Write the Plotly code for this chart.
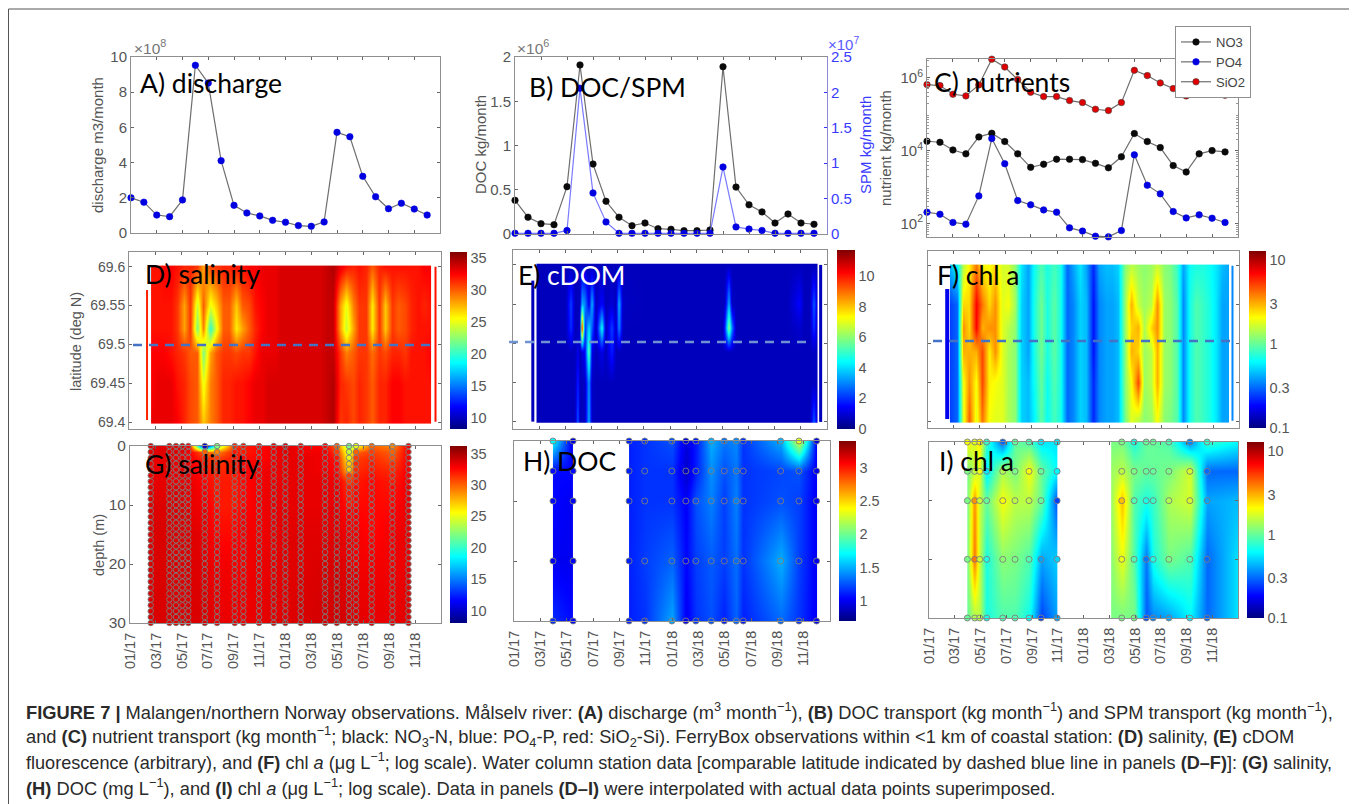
import numpy as np
import plotly.graph_objects as go

W, H = 1357, 804
PAGE_MARGIN = 8   # browser default body margin around the plot div

# ---------- river time series (monthly, months since 01/17)
MONTHS = list(range(24))
DISCHARGE = [2.0,1.75,1.02,.93,1.88,9.53,8.52,4.11,1.57,1.14,.97,.72,.61,.42,.38,.63,5.72,5.47,3.22,2.06,1.38,1.69,1.36,1.02]
DOC_T = [.38,.19,.117,.105,.535,1.91,.79,.37,.19,.094,.124,.06,.053,.038,.038,.045,1.89,.53,.33,.25,.124,.226,.124,.11]
SPM_T = [.01,.01,.01,.01,.05,2.06,.58,.17,.01,.01,.01,.01,.01,.01,.01,.01,.946,.1,.07,.05,.01,.01,.01,.01]
SIO2 = [6.56e5,6.15e5,3.56e5,3.21e5,6.43e5,3.28e6,2.0e6,9.0e5,4.04e5,3.07e5,3.07e5,2.39e5,2.1e5,1.38e5,1.27e5,2.1e5,1.62e6,1.16e6,7.3e5,5.1e5,3.21e5,4.69e5,4.13e5,3.34e5]
NO3 = [1.82e4,1.71e4,1.05e4,8.2e3,2.4e4,3.02e4,1.79e4,8.2e3,3.5e3,4.26e3,5.85e3,5.85e3,5.7e3,4.5e3,3.4e3,6.8e3,2.96e4,1.79e4,1.22e4,3.9e3,2.6e3,8.2e3,1.01e4,9.3e3]
PO4 = [205,180,107,96,575,2.16e4,4.4e3,428,326,237,205,76,62,45,43,64,7.7e3,1.13e3,653,214,143,173,140,107]

TICK_MONTHS = [0,2,4,6,8,10,12,14,16,18,20,22]
TICK_LABELS = ["01/17","03/17","05/17","07/17","09/17","11/17","01/18","03/18","05/18","07/18","09/18","11/18"]
C_MINOR = [50,60,70,80,90,200,300,400,500,600,700,800,900,2e3,3e3,4e3,5e3,6e3,7e3,8e3,9e3,
           2e4,3e4,4e4,5e4,6e4,7e4,8e4,9e4,2e5,3e5,4e5,5e5,6e5,7e5,8e5,9e5,2e6,3e6]

# ---------- FerryBox sections
LATS = [69.40,69.45,69.49,69.52,69.55,69.60]
FB_X = [1.7,2.2,2.7,3.2,3.7,4.2,4.7,5.2,5.7,6.2, 6.7,7.2,7.7,8.2,8.7,9.2,9.7,10.2,10.7,11.2, 11.7,12.2,12.7,13.2,13.7,14.2,14.7,15.2,15.7,16.2, 16.7,17.2,17.7,18.2,18.7,19.2,19.7,20.2,20.7,21.2, 21.7,22.2,22.7,23.2]
D_SAL_4940 = [33,33,33,33,32.5,31.5,30.5,30,27,29, 30,31.5,31.5,32,32,32.5,33,33,33.5,33.5, 33.5,33.5,33.5,33.5,33.5,33.5,33.5,34,34.5,31, 31.5,30.5,31.5,31,30,31.5,31.5,32.5,32.5,32, 32,32,32,32]
D_SAL_4945 = [32.5,33,33,33,32,31.5,30.5,30,25,29, 30,31.5,31.5,32,32,32.5,33,33,33.5,33.5, 33.5,33.5,33.5,33.5,33.5,33.5,33.5,34,34.5,31.5, 31,30.5,31.5,31,30,31.5,31.5,32.5,32.5,32, 32,32,32,32]
D_SAL_4949 = [32.5,32.5,32.5,32,31.5,31,30,30,22,28, 30,31,31,30.5,31,31,32,33,33,33, 33.5,33.5,33.5,33.5,33.5,33.5,33.5,34,34,31, 29,30,31,31,29.5,31,30.5,31.5,31.5,31, 32,32,32,32.5]
D_SAL_4952 = [32,32,32,32,31,28,31,22,29,20, 25,30,30,26,28,30,31.5,32.5,33,33, 33.5,33.5,33.5,33.5,33.5,33.5,33.5,34,34,28, 24,28,31,31,26,31,27,31,30,30.5, 31.5,32,32,32]
D_SAL_4955 = [32,32,32,32,31,28,31,24,30,25, 27,30,30,27,30,30.5,32,32.5,33,33, 33.5,33.5,33.5,33.5,33.5,33.5,33.5,34,34,28, 25,29,31,31,26,31,27,31,30,30.5, 31.5,32,31.5,32]
D_SAL_4960 = [32,32,32.5,32.5,32,31.5,31.5,31,28,30.5, 31,31.5,31.5,32,32,32.5,32.5,33,33,33, 33.5,33.5,33.5,33.5,33.5,33.5,33.5,34,34.5,33, 32,31.5,32,31.5,30,31.5,32,32,32,32, 32,32,32.5,32.5]

E_X = [1.8,3.0,4.0,4.38,4.7,4.94,5.1,5.27,5.5,5.78,6.03,6.3,6.74,7.1,7.56,7.85,8.07,8.4,10,12,14,16,16.2,16.46,16.7,17,19,21,21.9,22.2,22.7,23.0,23.25]
E_C_4940 = [.7,.7,.7,.7,.7,2.5,.7,.7,.8,3.5,.8,.7,.7,.7,.7,.7,.7,.7,.7,.7,.7,.7,.7,.7,.7,.7,.7,.7,.7,.7,.7,2.5,.7]
E_C_4945 = [.7,.7,.7,.7,.7,1.8,.7,.7,.8,3.2,.8,.7,.7,.7,.7,.7,.7,.7,.7,.7,.7,.7,.7,.7,.7,.7,.7,.7,.7,.7,.7,.8,.7]
E_C_4949 = [.7,.7,.7,.7,.7,1.2,.7,1.0,1.5,5.5,1.2,.7,1.2,.7,1.8,.7,.7,.7,.7,.7,.7,.7,.7,.7,.7,.7,.7,.7,.7,.7,.7,.8,.7]
E_C_4952 = [.7,.7,.7,2,.7,.7,1,10,2,4,2.5,.7,4.5,.7,2.2,.8,3,.7,.7,.7,.7,.7,2,6,3,.7,.7,.7,.9,.7,.7,2,.7]
E_C_4955 = [.7,.7,.7,2.2,.7,.7,.8,3.5,3,1.2,3.5,.7,1.5,.7,1,.7,3.5,.8,.7,.7,.7,.7,.8,3.5,.8,.7,.7,.7,1.5,.7,.7,2.5,.7]
E_C_4960 = [.7,.7,.7,.7,.7,.7,.7,.7,.7,.7,.7,.7,.7,.7,.7,.7,.7,.7,.7,.7,.7,.7,.7,.7,.7,.7,.7,.7,.7,.7,.7,.7,.7]

F_CHL_4940 = [.25,.3,1.8,4.5,1.8,4,2,1.8,1.8,1.4, 1.2,.5,.45,.6,.95,.65,.85,.7,.3,.35, .5,.45,.22,.35,.4,.4,.45,1.1,1.8,1.5, 1.2,1.3,2,1.2,1.1,.9,.35,.7,.9,.8, .7,.55,.4,.4]
F_CHL_4945 = [.25,.3,2,3.5,2,5,2.2,2,1.8,1.4, 1.2,.5,.45,.65,1.0,.65,.9,.7,.3,.35, .5,.45,.22,.35,.4,.4,.45,1.2,2,5, 1.3,1.5,3,1.3,1.2,.9,.35,.7,.9,.8, .7,.55,.4,.4]
F_CHL_4949 = [.25,.3,3,3,3,5,2.2,3.5,1.8,1.4, 1.2,.5,.4,.7,1.05,.7,.95,.7,.3,.35, .5,.45,.2,.35,.4,.4,.45,1.2,3,2.5, 1.3,1.5,3,1.3,1.2,.9,.35,.7,.9,.8, .7,.55,.4,.4]
F_CHL_4952 = [.25,.3,3.5,2.5,7,3,3.5,3.5,1.8,1.5, 1.2,.5,.4,.7,1.05,.7,.95,.7,.3,.35, .5,.45,.2,.35,.4,.4,.45,1.3,2.5,3, 1.4,2.5,3.5,1.3,1.2,.9,.35,.7,.9,.8, .7,.55,.4,.4]
F_CHL_4955 = [.25,.3,2.5,2.5,7,4,2.5,3.5,1.8,2, 1.3,.5,.4,.7,1.05,.7,.95,.7,.3,.35, .5,.45,.2,.35,.4,.4,.45,1.3,3,1.6, 1.3,1.5,3.5,1.3,1.2,.9,.35,.7,.9,.8, .7,.55,.4,.4]
F_CHL_4960 = [.45,.6,1.5,2.2,4,2.2,2,2.5,1.7,1.7, 1.2,.55,.4,.65,.9,.7,.85,.7,.3,.4, .55,.4,.22,.4,.45,.45,.5,1.2,1.5,1.3, 1.2,1.3,1.6,1.2,1.1,.8,.4,.65,.7,.7, .65,.55,.45,.4]

# ---------- water-column stations
G_STATIONS = [1.6,3.04,3.55,4.04,4.5,5.77,6.72,8.08,8.75,9.96,11.09,11.99,13.17,15.06,15.96,16.9,17.44,18.65,20.25,21.49]
G_DEPTHS = [0,1,2,4,6,10,15,20,30]
G_SAL_D0 = [33.5,33.5,33.5,33.5,33,10,22,31.5,32,32.5,33,33.5,33,32.5,30,22,25,30,29,33]
G_SAL_D1 = [33.5,33.5,33.5,33.5,33,30,29,32,32,32.5,33,33.5,33,33,31,24,30,31,30,33]
G_SAL_D2 = [33.3,33.3,33.3,33.3,33,31.5,31,32,32.5,32.5,33,33.3,33.3,33,32,25,31,31.5,30.5,33]
G_SAL_D4 = [33.3,33.3,33.3,33.3,33.3,32,31.5,32,32.5,33,33.2,33.3,33.3,33,32.5,27,31.5,32,31.5,33]
G_SAL_D6 = [33.3,33.3,33.3,33.3,33.3,32.5,32,32,32.5,33,33.2,33.3,33.3,33.3,33,31,32,32.5,32,33]
G_SAL_D10 = [33.6,33.6,33.6,33.6,33.3,33,32,32,32.5,33,33.3,33.3,33.3,33.3,33.3,32,32.5,32.5,32.5,33.3]
G_SAL_D15 = [33.7,33.7,33.7,33.7,33.6,33.3,32.5,32.5,33,33,33.3,33.5,33.5,33.5,33.5,33,33,32.5,33,33.3]
G_SAL_D20 = [33.7,33.7,33.7,33.7,33.6,33.5,33,33,33,33.2,33.3,33.5,33.5,33.7,33.7,33.3,33,33,33,33.3]
G_SAL_D30 = [33.7,33.7,33.7,33.7,33.7,33.7,33.3,33.2,33.2,33.3,33.5,33.5,33.7,33.9,34,33.7,33.5,33.3,33.3,33.5]
G_SAMPLE_DEPTHS = [0,1,2,3,4,5,6,7,8,9,10,11,12,13,14,15,16,17,18,19,20,21,22,23,24,25,26,27,28,29,30]

STATION_DEPTHS = [0,5,10,20,30]
H1_X = [2.96,4.49]
H1_DOC = [[1.7,.95],[1.05,1.05],[1.05,1.0],[1.0,1.0],[1.15,1.05]]
H2_X = [8.74,9.93,11.99,13.05,13.81,14.98,15.97,16.88,17.41,20.25,21.64,22.98]
H2_DOC_D0 = [1.12,1.17,1.25,.95,1.1,1.5,1.35,1.4,1.17,1.5,2.3,.95]
H2_DOC_D5 = [1.12,1.17,1.17,.9,1.12,1.42,1.25,1.35,1.17,1.22,1.25,1.0]
H2_DOC_D10 = [1.12,1.17,1.17,1.02,1.25,1.38,1.2,1.38,1.17,1.25,1.2,1.0]
H2_DOC_D20 = [1.12,1.2,1.3,1.05,1.2,1.28,1.2,1.33,1.17,1.5,1.2,1.0]
H2_DOC_D30 = [1.12,1.17,1.48,1.0,1.17,1.25,1.12,1.3,1.12,1.32,1.17,1.0]

I1_X = [2.98,3.55,3.94,4.48,5.73,6.68,7.77,8.7,9.95]
I1_CHL_D0 = [2.0,1.8,2.2,.8,.3,1.0,.9,.55,.55]
I1_CHL_D5 = [1.1,1.5,1.9,.55,1.4,1.1,2.0,1.0,.6]
I1_CHL_D10 = [1.1,3.5,1.6,1.0,2.0,1.5,1.5,1.0,.25]
I1_CHL_D20 = [1.1,4.0,1.6,.7,1.2,1.1,.9,.4,.5]
I1_CHL_D30 = [1.0,1.4,1.5,.7,.9,.9,.65,.25,.4]
I2_X = [14.15,14.97,15.93,16.87,17.41,18.63,20.26,21.6,24]
I2_CHL_D0 = [1.1,1.1,.7,1.0,1.0,.9,.35,.8,.6]
I2_CHL_D5 = [1.3,1.5,1.1,1.0,1.0,1.1,1.7,.3,.3]
I2_CHL_D10 = [1.3,2.8,.9,.7,.8,1.4,1.7,.4,.45]
I2_CHL_D20 = [1.2,1.9,.9,.32,.7,1.1,.9,.3,.55]
I2_CHL_D30 = [1.1,1.1,1.1,.28,.35,.4,.6,.3,.55]

JET = [[0,'#00007f'],[.125,'#0000ff'],[.375,'#00ffff'],[.625,'#ffff00'],[.875,'#ff0000'],[1,'#7f0000']]
TXT = '#555555'
LINE = '#8f8f8f'
SANS = 'Liberation Sans'

# pixel boxes in page coordinates: left, right, top, bottom
BOX = {
 'A':(131,440,57,233),'B':(515,827,57,234),'C':(927,1238,59,237),
 'D':(129,441,252,429),'E':(513,827,250,429),'F':(928,1239,251,428),
 'G':(130,441,446,623),'H':(514,830,441,621),'I':(929,1238,442,618)}
CBAR = {'D':(450,467,252,429),'E':(837,855,250,429),'F':(1249,1266,251,428),
        'G':(450,467,446,623),'H':(839,856,441,621),'I':(1247,1264,442,618)}
AX = {k:i+1 for i,k in enumerate('ABCDEFGHI')}
FW, FH = W-PAGE_MARGIN, H-PAGE_MARGIN
fx = lambda p: (p-PAGE_MARGIN)/FW
fy = lambda p: 1-(p-PAGE_MARGIN)/FH

layout = dict(width=FW, height=FH, autosize=False, margin=dict(l=0,r=0,t=0,b=0,pad=0,autoexpand=False),
              paper_bgcolor='white', plot_bgcolor='white',
              font=dict(family=SANS, color=TXT, size=14),
              showlegend=True,
              legend=dict(x=fx(1175), y=fy(26), xanchor='left', yanchor='top', bgcolor='white',
                          bordercolor='#8f8f8f', borderwidth=1, font=dict(size=13,color='#444'),
                          itemwidth=30, tracegroupgap=0))

def xaxis(k, labels=False):
    l,r,_,b = BOX[k]
    d = dict(domain=[fx(l),fx(r)], range=[0,24], anchor='y%d'%AX[k], tickmode='array',
             tickvals=TICK_MONTHS, ticks='inside', ticklen=3, tickcolor='#666', showline=True, linecolor=LINE,
             linewidth=1, mirror='ticks', showgrid=False, zeroline=False, showticklabels=labels)
    if labels:
        d.update(ticktext=TICK_LABELS, tickangle=-90, tickfont=dict(size=14.5,color=TXT), ticklabelstandoff=3)
    return d

def yaxis(k, size=15, **kw):
    _,_,t,b = BOX[k]
    d = dict(domain=[fy(b),fy(t)], anchor='x%d'%AX[k], ticks='inside', ticklen=3, tickcolor='#666', showline=True,
             linecolor=LINE, linewidth=1, mirror='ticks', showgrid=False, zeroline=False,
             tickfont=dict(size=size,color=TXT))
    d.update(kw)
    return d

for k in 'ABCDEFGHI':
    layout['xaxis%d'%AX[k]] = xaxis(k, k in 'GHI')

layout['yaxis1'] = yaxis('A', range=[0,10], tickvals=[0,2,4,6,8,10])
layout['yaxis2'] = yaxis('B', range=[0,2], tickvals=[0,.5,1,1.5,2], ticktext=['0','0.5','1','1.5','2'], mirror=False)
layout['yaxis3'] = yaxis('C', type='log', range=[1.63,6.52], tickvals=[100,1e4,1e6],
                         ticktext=['10<sup>2</sup>','10<sup>4</sup>','10<sup>6</sup>'],
                         minor=dict(ticks='inside', ticklen=2, tickcolor='#999', tickmode='array', tickvals=C_MINOR))
lat_ticks = [69.4,69.45,69.5,69.55,69.6]
lat_txt = ['69.4','69.45','69.5','69.55','69.6']
layout['yaxis4'] = yaxis('D', size=14, range=[69.391,69.619], tickvals=lat_ticks, ticktext=lat_txt)
layout['yaxis5'] = yaxis('E', range=[69.391,69.619], tickvals=lat_ticks, showticklabels=False)
layout['yaxis6'] = yaxis('F', range=[69.391,69.619], tickvals=lat_ticks, showticklabels=False)
layout['yaxis7'] = yaxis('G', size=15.5, range=[30,0], tickvals=[0,10,20,30])
layout['yaxis8'] = yaxis('H', range=[30,0], tickvals=[0,10,20,30], showticklabels=False)
layout['yaxis9'] = yaxis('I', range=[30,0], tickvals=[0,10,20,30], showticklabels=False)
# right SPM axis of panel B
_,r,t,b = BOX['B']
layout['yaxis10'] = dict(domain=[fy(b),fy(t)], anchor='x2', overlaying='y2', side='right', range=[0,2.5],
                         tickvals=[0,.5,1,1.5,2,2.5], ticktext=['0','0.5','1','1.5','2','2.5'],
                         ticks='inside', ticklen=3, tickcolor='#3333ff', showline=True, linecolor='#8a8ad8',
                         showgrid=False, zeroline=False, tickfont=dict(size=15,color='#3a3aff'))

fig = go.Figure()

def line(x,y,k,color,lc='#6e6e6e',name=None,yref=None,edge=None):
    n = AX[k]
    fig.add_trace(go.Scatter(x=x,y=y,mode='lines+markers',xaxis='x%d'%n,yaxis=yref or 'y%d'%n,
        name=name or k, showlegend=bool(name), cliponaxis=False,
        line=dict(color=lc,width=1.2),
        marker=dict(color=color,size=6.5,line=dict(color=edge or color,width=.6))))

line(MONTHS,DISCHARGE,'A','#0000e0')
line(MONTHS,DOC_T,'B','#0a0a0a')
line(MONTHS,SPM_T,'B','#0000e0',lc='#7a7aff',yref='y10')
line(MONTHS,NO3,'C','#0a0a0a',name='NO3')
line(MONTHS,PO4,'C','#0000e0',name='PO4')
line(MONTHS,SIO2,'C','#e00000',name='SiO2',edge='#444')

def pad(x,y,z):
    """Repeat the outer rows/columns so plotly's half-cell extension stays negligible."""
    z = np.asarray(z,float)
    e = 1e-3
    x2 = [x[0]-e]+list(x)+[x[-1]+e]
    y2 = [y[0]-e]+list(y)+[y[-1]+e]
    z = np.hstack([z[:,:1],z,z[:,-1:]])
    z = np.vstack([z[:1],z,z[-1:]])
    return x2,y2,z

def cbar(k,tickvals,ticktext=None):
    l,r,t,b = CBAR[k]
    return dict(x=fx(l),xanchor='left',xref='paper',y=fy((t+b)/2),yanchor='middle',yref='paper',
                lenmode='pixels',len=b-t,thicknessmode='pixels',thickness=r-l,xpad=0,ypad=0,
                outlinewidth=0,ticks='',tickvals=tickvals,ticktext=ticktext or [str(v) for v in tickvals],
                tickfont=dict(size=14.5,color=TXT),ticklabelposition='outside')

def heat(k,x,y,z,zr,bar=None):
    n = AX[k]
    x2,y2,z2 = pad(x,y,z)
    fig.add_trace(go.Heatmap(x=x2,y=y2,z=z2,zmin=zr[0],zmax=zr[1],colorscale=JET,zsmooth='best',
        xaxis='x%d'%n,yaxis='y%d'%n,showscale=bar is not None,colorbar=bar,hoverinfo='skip'))

def strip(k,xc,hw,lat0,lat1,val,zr):
    n = AX[k]
    fig.add_trace(go.Heatmap(x=[xc-hw,xc+hw],y=[lat0,lat1],z=[[val]],zmin=zr[0],zmax=zr[1],colorscale=JET,
        xaxis='x%d'%n,yaxis='y%d'%n,showscale=False,hoverinfo='skip'))

def dots(k,xs,ys,vals,zr,size=6):
    n = AX[k]
    fig.add_trace(go.Scatter(x=xs,y=ys,mode='markers',xaxis='x%d'%n,yaxis='y%d'%n,showlegend=False,cliponaxis=False,
        hoverinfo='skip',
        marker=dict(size=size,color=vals,colorscale=JET,cmin=zr[0],cmax=zr[1],
                    line=dict(color='rgba(125,125,125,.9)',width=1))))

# D
ZD = (8.3,35.9)
heat('D',FB_X,LATS,[D_SAL_4940,D_SAL_4945,D_SAL_4949,D_SAL_4952,D_SAL_4955,D_SAL_4960],ZD,cbar('D',[10,15,20,25,30,35]))
strip('D',1.39,.08,69.403,69.57,31.5,ZD)
strip('D',23.58,.08,69.4,69.6,32,ZD)
# E
ZE = (0,11.7)
heat('E',E_X,LATS,[E_C_4940,E_C_4945,E_C_4949,E_C_4952,E_C_4955,E_C_4960],ZE,cbar('E',[0,2,4,6,8,10]))
strip('E',1.5,.1,69.40,69.58,.7,ZE)
strip('E',23.5,.1,69.4,69.6,.7,ZE)
# F
ZL = (-1,1.106)
log_ticks = [float(v) for v in np.log10([.1,.3,1,3,10])]
heat('F',FB_X,LATS,np.log10([F_CHL_4940,F_CHL_4945,F_CHL_4949,F_CHL_4952,F_CHL_4955,F_CHL_4960]),ZL,cbar('F',log_ticks,['0.1','0.3','1','3','10']))
strip('F',1.5,.17,69.403,69.57,float(np.log10(.17)),ZL)
strip('F',23.5,.08,69.4,69.6,float(np.log10(.35)),ZL)
# G
ZG = (8,36.2)
G_GRID = [G_SAL_D0,G_SAL_D1,G_SAL_D2,G_SAL_D4,G_SAL_D6,G_SAL_D10,G_SAL_D15,G_SAL_D20,G_SAL_D30]
heat('G',G_STATIONS,G_DEPTHS,G_GRID,ZG,cbar('G',[10,15,20,25,30,35]))
gx,gy,gv = [],[],[]
for i,s in enumerate(G_STATIONS):
    for d in G_SAMPLE_DEPTHS:
        row = int(np.searchsorted(G_DEPTHS,d))
        gx.append(s); gy.append(d); gv.append(G_GRID[row][i])
dots('G',gx,gy,gv,ZG,5.5)
# H
ZH = (.7,3.4)
H2_GRID = [H2_DOC_D0,H2_DOC_D5,H2_DOC_D10,H2_DOC_D20,H2_DOC_D30]
heat('H',H2_X,STATION_DEPTHS,H2_GRID,ZH,cbar('H',[1,1.5,2,2.5,3]))
heat('H',H1_X,STATION_DEPTHS,H1_DOC,ZH)
for xs,grid in ((H1_X,H1_DOC),(H2_X,H2_GRID)):
    dots('H',[x for x in xs for _ in STATION_DEPTHS],[d for _ in xs for d in STATION_DEPTHS],
         [grid[j][i] for i in range(len(xs)) for j in range(5)],ZH)
# I
I1_GRID = np.log10([I1_CHL_D0,I1_CHL_D5,I1_CHL_D10,I1_CHL_D20,I1_CHL_D30])
I2_GRID = np.log10([I2_CHL_D0,I2_CHL_D5,I2_CHL_D10,I2_CHL_D20,I2_CHL_D30])
heat('I',I1_X,STATION_DEPTHS,I1_GRID,ZL,cbar('I',log_ticks,['0.1','0.3','1','3','10']))
heat('I',I2_X,STATION_DEPTHS,I2_GRID,ZL)
dots('I',[x for x in I1_X for _ in STATION_DEPTHS],[d for _ in I1_X for d in STATION_DEPTHS],
     [float(I1_GRID[j][i]) for i in range(9) for j in range(5)],ZL)
dots('I',[x for x in I2_X[1:-1] for _ in STATION_DEPTHS],[d for _ in I2_X[1:-1] for d in STATION_DEPTHS],
     [float(I2_GRID[j][i]) for i in range(1,8) for j in range(5)],ZL)

ann = []
def text(px,py,s,size=14,color=TXT,family=SANS,anchor='left',angle=0):
    ann.append(dict(x=fx(px),y=fy(py),xref='paper',yref='paper',text=s,showarrow=False,
                    xanchor=anchor,yanchor='middle',textangle=angle,
                    font=dict(family=family,size=size,color=color)))
# panel titles
for px,py,s,c in [(138,83,'A) discharge','black'),(527,87,'B) DOC/SPM','black'),(932,82,'C) nutrients','black'),
                  (143,274,'D) salinity','black'),(516,275,'E)','black'),(545,275,'cDOM','white'),(935,275,'F) chl a','black'),
                  (143,464,'G) salinity','black'),(521,461,'H) DOC','black'),(937,461,'I) chl a','black')]:
    text(px,py,s,size=26.5,color=c,family='Lato')
# axis labels
text(97,145,'discharge m3/month',15,anchor='center',angle=-90)
text(480,145,'DOC kg/month',15,anchor='center',angle=-90)
text(865,145,'SPM kg/month',15,color='#3a3aff',anchor='center',angle=-90)
text(885,148,'nutrient kg/month',15,anchor='center',angle=-90)
text(76,342,'latitude (deg N)',14.5,anchor='center',angle=-90)
text(99,545,'depth (m)',14.5,anchor='center',angle=-90)
# axis exponents
text(132,47,'×10<sup>8</sup>',15.5,color='#777')
text(515,47,'×10<sup>6</sup>',15.5,color='#777')
text(826,44,'×10<sup>7</sup>',15,color='#5a5aff')
# caption
CAPTION = [
 "<b>FIGURE 7 |</b> Malangen/northern Norway observations. Målselv river: <b>(A)</b> discharge (m<sup>3</sup> month<sup>−1</sup>), <b>(B)</b> DOC transport (kg month<sup>−1</sup>) and SPM transport (kg month<sup>−1</sup>),",
 "and <b>(C)</b> nutrient transport (kg month<sup>−1</sup>; black: NO<sub>3</sub>-N, blue: PO<sub>4</sub>-P, red: SiO<sub>2</sub>-Si). FerryBox observations within &lt;1 km of coastal station: <b>(D)</b> salinity, <b>(E)</b> cDOM",
 "fluorescence (arbitrary), and <b>(F)</b> chl <i>a</i> (μg L<sup>−1</sup>; log scale). Water column station data [comparable latitude indicated by dashed blue line in panels <b>(D–F)</b>]: <b>(G)</b> salinity,",
 "<b>(H)</b> DOC (mg L<sup>−1</sup>), and <b>(I)</b> chl <i>a</i> (μg L<sup>−1</sup>; log scale). Data in panels <b>(D–I)</b> were interpolated with actual data points superimposed.",
]
for py,s,sz in zip((711,736,761,787),CAPTION,(18.3,18.3,18.1,18.3)):
    text(24,py,s,sz,color='#2a2a2a')
layout['annotations'] = ann

# frame and dashed latitude lines (panel coordinates)
def seg(x0,y0,x1,y1,color,width,dash='solid'):
    return dict(type='line',xref='paper',yref='paper',x0=fx(x0),x1=fx(x1),y0=fy(y0),y1=fy(y1),
                line=dict(color=color,width=width,dash=dash))
layout['shapes'] = [
    seg(8.5,9,1355,9,'#555',1), seg(8.5,9,8.5,804,'#555',1), seg(1355,9,1355,804,'#555',1),
    seg(133,345,435,345,'#4472c4',2.5,'9px,7px'),
    seg(509,342,812,342,'#6f93d2',2.5,'9px,7px'),
    seg(933,341,1235,341,'#4472c4',2.5,'9px,7px'),
]
fig.update_layout(**layout)
fig.write_html("out.html", config={'displayModeBar':False})
